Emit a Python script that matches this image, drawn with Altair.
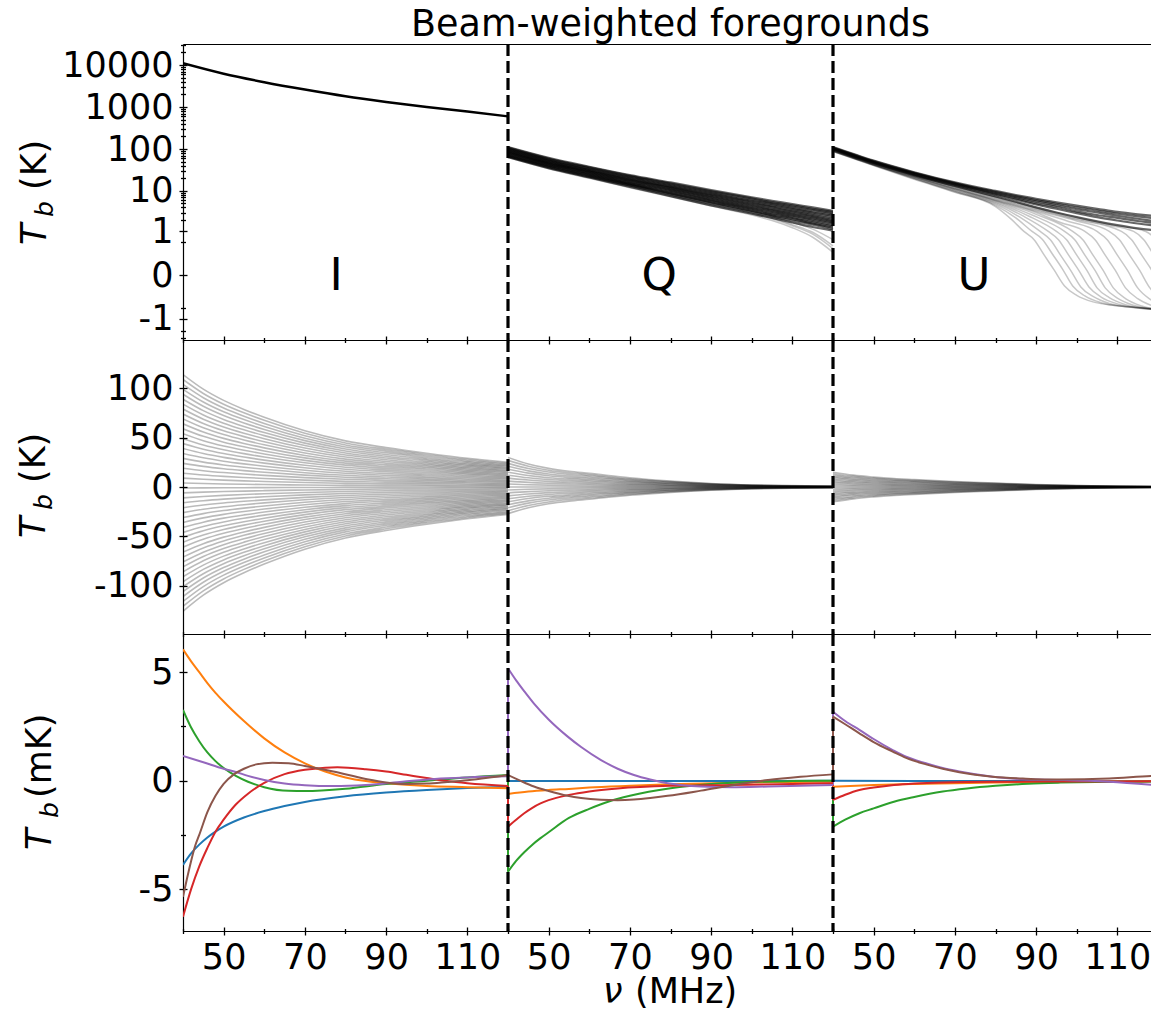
import altair as alt
import pandas as pd

FONT = "DejaVu Sans"
BLACK = "#000000"

# ---------------------------------------------------------------- data
SEG_SHIFT = {"I": 0, "Q": 80, "U": 160}      # each Stokes block drawn 80 MHz further right
BOUNDARY_NU = [120, 200]                      # joint-axis positions where blocks meet
MAJOR_NU = [50, 70, 90, 110]
MINOR_NU = [40, 60, 80, 100, 120]
PANEL_NU = {"I": 77.7, "Q": 77.2, "U": 74.7}  # where the I / Q / U letters sit

# Row 1 : T_b (K), symlog
top_nu_I = [40, 50, 60, 70, 80, 90, 100, 110, 120]
top_I = [11000, 6200, 3900, 2600, 1800, 1320, 1000, 780, 600]

top_nu_Q = [40, 50, 60, 70, 80, 90, 100, 105, 110, 115, 120]
top_Q_band = [
    [112, 62, 38, 24, 16, 10.5, 7.0, 5.8, 4.8, 4.0, 3.3],
    [108, 59.5, 36.5, 23, 15.2, 9.9, 6.6, 5.4, 4.5, 3.7, 3.1],
    [104, 57, 35, 22, 14.5, 9.4, 6.2, 5.1, 4.2, 3.5, 2.9],
    [100, 55, 33.5, 21, 13.7, 8.9, 5.8, 4.8, 3.9, 3.2, 2.7],
    [97, 53, 32, 20, 13, 8.4, 5.5, 4.5, 3.7, 3.0, 2.5],
    [93, 51, 31, 19.2, 12.5, 8.0, 5.2, 4.2, 3.4, 2.8, 2.3],
    [90, 49, 30, 18.5, 12, 7.6, 4.9, 4.0, 3.2, 2.6, 2.1],
    [87, 47.5, 29, 17.7, 11.5, 7.2, 4.6, 3.7, 3.0, 2.45, 1.95],
    [84, 46, 28, 17, 11, 6.9, 4.4, 3.5, 2.8, 2.3, 1.8],
    [81, 44.5, 27, 16.2, 10.5, 6.5, 4.1, 3.3, 2.65, 2.15, 1.7],
    [78, 43, 26, 15.5, 10, 6.2, 3.9, 3.1, 2.5, 2.0, 1.6],
    [75, 41.5, 25, 15, 9.5, 5.9, 3.7, 2.9, 2.35, 1.85, 1.45],
    [72, 40, 24, 14.5, 9, 5.6, 3.5, 2.7, 2.2, 1.7, 1.35],
    [69, 38.5, 23, 14, 8.6, 5.3, 3.3, 2.55, 2.05, 1.6, 1.25],
    [67, 37, 22, 13.5, 8.2, 5.0, 3.1, 2.4, 1.9, 1.5, 1.15],
    [64, 35, 21, 12.5, 7.5, 4.5, 2.8, 2.2, 1.7, 1.3, 1.05],
]
top_Q_faint = [
    [66, 36, 21.5, 13, 7.8, 4.7, 2.9, 2.2, 1.5, 0.95, 0.4],
    [63, 34, 20, 12, 7.2, 4.3, 2.6, 1.9, 1.25, 0.7, 0.25],
    [70, 38, 23, 14, 8.6, 5.2, 3.2, 2.4, 1.7, 1.15, 0.6],
    [65, 35.5, 21, 12.7, 7.6, 4.6, 2.85, 2.1, 1.4, 0.85, 0.33],
]

top_nu_U = [40, 50, 60, 70, 80, 85, 90, 95, 100, 105, 110, 115, 120]
top_U_band = [
    [112, 53, 28, 16, 10, 8.0, 6.5, 5.3, 4.4, 3.7, 3.1, 2.7, 2.4],
    [109, 51.5, 27.2, 15.5, 9.5, 7.5, 6.0, 4.9, 4.0, 3.35, 2.8, 2.4, 2.1],
    [106, 50, 26.5, 15, 9.0, 7.1, 5.6, 4.5, 3.6, 3.0, 2.5, 2.1, 1.8],
    [104, 49, 25.7, 14.5, 8.5, 6.6, 5.1, 4.1, 3.2, 2.6, 2.2, 1.85, 1.6],
    [102, 48, 25, 14, 8.1, 6.2, 4.7, 3.7, 2.9, 2.3, 1.9, 1.6, 1.4],
    [99, 46.5, 24, 13.2, 7.4, 5.5, 4.0, 3.0, 2.3, 1.8, 1.45, 1.2, 1.05],
]
# U realisations that fall through zero: (frequencies, values) per line
top_U_faint = [
    ([40, 50, 60, 70, 80, 84, 87, 89.5, 92, 94.5, 97, 100, 104, 109, 117, 120],
     [87, 40.5, 19, 9.3, 4.2, 2.0, 1.0, 0.6, 0.2, 0.03, -0.08, -0.2, -0.33, -0.42, -0.5, -0.52]),
    ([40, 50, 60, 70, 80, 85, 89, 91.5, 94, 96.5, 99, 102, 106, 111, 119],
     [88, 41, 19.5, 9.6, 4.5, 2.2, 1.0, 0.62, 0.22, 0.04, -0.08, -0.21, -0.35, -0.45, -0.53]),
    ([40, 50, 60, 70, 80, 86, 91, 93.5, 96, 98.5, 101, 104, 108, 113, 121],
     [89, 41.5, 20, 9.9, 4.8, 2.3, 1.0, 0.6, 0.2, 0.03, -0.09, -0.22, -0.37, -0.47, -0.56]),
    ([40, 50, 60, 70, 80, 87, 93, 95.5, 98, 100.5, 103, 106, 110, 115, 123],
     [90, 42, 20.5, 10.2, 5.1, 2.4, 1.0, 0.6, 0.2, 0.03, -0.09, -0.23, -0.38, -0.5, -0.58]),
    ([40, 50, 60, 70, 80, 88, 95, 97.5, 100, 102.5, 105, 108, 112, 117, 125],
     [91, 42.5, 21, 10.6, 5.4, 2.5, 1.0, 0.6, 0.2, 0.03, -0.1, -0.24, -0.4, -0.52, -0.6]),
    ([40, 50, 60, 70, 80, 89, 97, 99.5, 102, 104.5, 107, 110, 114, 119, 127],
     [92, 43, 21.5, 11, 5.7, 2.6, 1.0, 0.6, 0.2, 0.03, -0.1, -0.25, -0.42, -0.55, -0.62]),
    ([40, 50, 60, 70, 80, 90, 99, 101.5, 104, 106.5, 109, 112, 116, 121],
     [93, 43.5, 21.7, 11.2, 5.9, 2.7, 1.0, 0.6, 0.2, 0.03, -0.1, -0.26, -0.44, -0.57]),
    ([40, 50, 60, 70, 80, 90, 96, 102, 104.5, 107, 109.5, 112, 115, 119, 124],
     [94, 44, 22, 11.4, 6.0, 3.0, 1.7, 1.0, 0.6, 0.2, 0.03, -0.1, -0.26, -0.45, -0.58]),
    ([40, 50, 60, 70, 80, 90, 98, 105, 107.5, 110, 112.5, 115, 118, 122],
     [95, 44.5, 22.5, 11.8, 6.3, 3.2, 1.8, 1.0, 0.6, 0.2, 0.03, -0.1, -0.27, -0.46]),
    ([40, 50, 60, 70, 80, 90, 100, 108, 110.5, 113, 115.5, 118, 121],
     [96, 45, 23, 12.2, 6.6, 3.4, 1.85, 1.0, 0.6, 0.2, 0.03, -0.1, -0.27]),
    ([40, 50, 60, 70, 80, 90, 100, 111, 113.5, 116, 118.5, 121],
     [97, 45.5, 23.5, 12.6, 6.9, 3.6, 2.0, 1.0, 0.6, 0.2, 0.03, -0.1]),
    ([40, 50, 60, 70, 80, 90, 100, 107, 114, 116.5, 119, 121.5],
     [98, 46, 23.7, 12.9, 7.1, 3.8, 2.1, 1.5, 1.0, 0.6, 0.2, 0.03]),
    ([40, 50, 60, 70, 80, 90, 100, 110, 117, 119.5, 122],
     [98.5, 46.2, 23.9, 13.1, 7.3, 4.0, 2.3, 1.4, 1.0, 0.6, 0.2]),
]

# Row 2 : T_b (K), linear. Each realisation = its 40 MHz value x the block's falloff
mid_nu = [40, 45, 50, 55, 60, 70, 80, 90, 100, 110, 120]
mid_amp_I = [114, 109, 104, 99, 94, 89, 84, 79, 74, 69, 64, 59, 54, 49, 44, 39, 34,
             29, 24, 19, 14, 9, 4, -1, -6, -11, -16, -21, -26, -31, -36, -41, -46,
             -51, -56, -61, -66, -71, -76, -81, -86, -91, -96, -101, -106, -111,
             -116, -121, -126]
mid_prof_I = [1.0, 0.87, 0.77, 0.69, 0.62, 0.5, 0.41, 0.35, 0.3, 0.255, 0.22]
mid_amp_Q = [30, 27, 24, 21, 18, 15, 12, 9, 6, 3, 0, -3, -6, -9, -12, -15, -18,
             -21, -24, -27]
mid_prof_Q = [1.0, 0.78, 0.63, 0.53, 0.46, 0.31, 0.2, 0.12, 0.07, 0.045, 0.03]
mid_amp_U = [15, 13.5, 12, 10.5, 9, 7.5, 6, 4.5, 3, 1.5, 0, -1.5, -3, -4.5, -6,
             -7.5, -9, -10.5, -12, -13.5, -15]
mid_prof_U = [1.0, 0.8, 0.67, 0.57, 0.5, 0.37, 0.27, 0.17, 0.1, 0.06, 0.04]

# Row 3 : T_b (mK), six colored components (nu list, value list) per block
blue = {
    "I": ([40, 42, 44, 46, 48, 50, 55, 60, 65, 70, 80, 90, 100, 110, 120],
          [-3.88, -3.35, -2.95, -2.62, -2.35, -2.12, -1.7, -1.4, -1.17, -0.98,
           -0.72, -0.55, -0.43, -0.34, -0.28]),
    "Q": ([40, 80, 120], [-0.02, -0.02, -0.01]),
    "U": ([40, 80, 120], [-0.01, -0.02, -0.03]),
}
orange = {
    "I": ([40, 42, 44, 46, 48, 50, 55, 60, 65, 70, 75, 80, 85, 90, 100, 110, 120],
          [6.05, 5.5, 5.0, 4.5, 4.05, 3.65, 2.75, 1.95, 1.3, 0.8, 0.42, 0.15,
           -0.02, -0.12, -0.25, -0.3, -0.35]),
    "Q": ([40, 45, 50, 55, 60, 70, 80, 90, 100, 110, 120],
          [-0.61, -0.5, -0.43, -0.38, -0.32, -0.24, -0.17, -0.12, -0.08, -0.06, -0.05]),
    "U": ([40, 50, 60, 70, 80, 90, 100, 110, 120],
          [-0.28, -0.2, -0.15, -0.12, -0.09, -0.07, -0.05, -0.04, -0.03]),
}
green = {
    "I": ([40, 42, 44, 46, 48, 50, 53, 56, 60, 66, 70, 80, 90, 100, 110, 120],
          [3.26, 2.45, 1.82, 1.3, 0.9, 0.58, 0.22, -0.05, -0.3, -0.47, -0.48, -0.37,
           -0.15, 0.0, 0.15, 0.26]),
    "Q": ([40, 42, 44, 46, 48, 50, 55, 60, 65, 70, 80, 90, 100, 110, 120],
          [-4.2, -3.7, -3.3, -2.95, -2.65, -2.38, -1.72, -1.3, -0.95, -0.7, -0.35,
           -0.15, -0.06, -0.02, 0.0]),
    "U": ([40, 43, 46.5, 50, 55, 60, 67, 73, 80, 88, 96, 105, 120],
          [-2.12, -1.8, -1.5, -1.28, -0.97, -0.75, -0.5, -0.36, -0.24, -0.14,
           -0.09, -0.06, -0.04]),
}
red = {
    "I": ([40, 42, 44, 46, 48, 50, 53, 56, 60, 65, 70, 75, 78, 85, 90, 95, 100,
           105, 110, 120],
          [-6.27, -5.0, -3.95, -3.1, -2.35, -1.8, -1.1, -0.6, -0.1, 0.3, 0.5, 0.6,
           0.62, 0.53, 0.42, 0.27, 0.12, -0.02, -0.12, -0.25]),
    "Q": ([40, 42, 44, 46, 48, 50, 55, 60, 67, 80, 95, 110, 120],
          [-2.12, -1.8, -1.5, -1.25, -1.05, -0.9, -0.66, -0.5, -0.36, -0.24, -0.2,
           -0.15, -0.12]),
    "U": ([40, 43, 46.5, 50, 55, 60, 67, 80, 100, 120],
          [-0.89, -0.65, -0.43, -0.32, -0.2, -0.13, -0.08, -0.05, -0.04, -0.03]),
}
purple = {
    "I": ([40, 45, 50, 53, 56, 60, 65, 70, 77, 85, 94, 102, 110, 120],
          [1.14, 0.85, 0.55, 0.4, 0.22, 0.03, -0.13, -0.21, -0.25, -0.2, -0.05,
           0.08, 0.15, 0.2]),
    "Q": ([40, 42, 44, 46.4, 50, 54.7, 58, 62.9, 67, 71, 75, 79.3, 87.5, 95, 104, 120],
          [5.18, 4.62, 4.12, 3.55, 2.82, 2.03, 1.55, 0.95, 0.55, 0.26, 0.05, -0.12,
           -0.27, -0.3, -0.27, -0.2]),
    "U": ([40, 43, 46.5, 50, 54.7, 58, 62.9, 67, 71.1, 79.3, 87.5, 95.7, 108, 120],
          [3.18, 2.75, 2.34, 1.92, 1.41, 1.1, 0.8, 0.58, 0.42, 0.18, 0.06, 0.03,
           -0.05, -0.22]),
}
brown = {
    "I": ([40, 41, 42, 43, 44, 46, 48, 50, 52.6, 55, 58, 62, 66, 70, 77, 85, 90,
           95, 100, 105, 110, 115, 120],
          [-5.35, -4.5, -3.7, -3.0, -2.5, -1.45, -0.7, -0.15, 0.3, 0.55, 0.75, 0.83,
           0.8, 0.68, 0.42, 0.08, -0.08, -0.15, -0.13, -0.06, 0.02, 0.13, 0.26]),
    "Q": ([40, 43, 46.4, 50, 54.7, 58, 62.9, 67, 71, 75, 79.3, 87.5, 95.7, 104, 112, 120],
          [0.26, 0.0, -0.27, -0.48, -0.7, -0.8, -0.88, -0.9, -0.87, -0.8, -0.7,
           -0.46, -0.2, 0.03, 0.18, 0.29]),
    "U": ([40, 43, 46.5, 50, 54.7, 58, 62.9, 67, 71.1, 79.3, 87.5, 95.7, 108,
           118.5, 120],
          [2.95, 2.6, 2.18, 1.78, 1.34, 1.05, 0.75, 0.55, 0.39, 0.18, 0.09, 0.05,
           0.1, 0.22, 0.23]),
}
COMPONENTS = ["blue", "orange", "green", "red", "purple", "brown"]
COMPONENT_DATA = [blue, orange, green, red, purple, brown]
COMPONENT_COLORS = ["#1f77b4", "#ff7f0e", "#2ca02c", "#d62728", "#9467bd", "#8c564b"]

# ---------------------------------------------------------------- geometry
W = 968
PX_PER_MHZ = 4.0625
X_DOMAIN = [40, 40 + W / PX_PER_MHZ]
H1, H2, H3 = 296, 294, 297

major_x = sorted({n + s for s in SEG_SHIFT.values() for n in MAJOR_NU if n + s <= X_DOMAIN[1]})
minor_x = sorted({n + s for s in SEG_SHIFT.values() for n in MINOR_NU if n + s <= X_DOMAIN[1]})

X_EXPR = "'' + ((datum.value - 40) % 80 + 40)"
Y_EXPR = "'' + datum.value"

xs = alt.Scale(domain=X_DOMAIN, nice=False, zero=False)
ys1 = alt.Scale(type="symlog", constant=0.1, domain=[-3.375, 31587], nice=False, zero=False)
ys2 = alt.Scale(domain=[-149, 149], nice=False, zero=False)
ys3 = alt.Scale(domain=[-6.93, 6.76], nice=False, zero=False)

y1_major = [-1, 0, 1, 10, 100, 1000, 10000]
y1_minor = [-3, -2, -0.5, 0.5] + [m * 10 ** k for k in range(4) for m in range(2, 10)] + [20000, 30000]
y2_major = [-100, -50, 0, 50, 100]
y3_major = [-5, 0, 5]
y3_minor = [-2.5, 2.5]


def axis(orient, values=None, size=0, offset=0, labels=False, domain=False, expr=None, pad=0):
    kw = dict(orient=orient, grid=False, domain=domain, ticks=size > 0, labels=labels,
              title=None, offset=offset, minExtent=0)
    if values is not None:
        kw["values"] = values
    if size > 0:
        kw.update(tickSize=size, tickColor=BLACK, tickWidth=1.3)
    if domain:
        kw.update(domainColor=BLACK, domainWidth=1.2)
    if labels:
        kw.update(labelFont=FONT, labelFontSize=35, labelColor=BLACK, labelPadding=pad,
                  labelExpr=expr, labelOverlap=False, labelFlush=False, labelBound=False)
    return alt.Axis(**kw)


def helper(ys, x_axis, y_axis):
    d = pd.DataFrame({"x": [100.0], "y": [0.0]})
    return alt.Chart(d).mark_point(opacity=0).encode(
        x=alt.X("x:Q", scale=xs, axis=x_axis),
        y=alt.Y("y:Q", scale=ys, axis=y_axis),
    )


def axis_layers(ys, y_major, y_minor, x_labels):
    return [
        helper(ys, axis("bottom", major_x, 8, -4, labels=x_labels, expr=X_EXPR, pad=5),
               axis("left", y_major, 8, -4, labels=True, expr=Y_EXPR, pad=6)),
        helper(ys, axis("bottom", minor_x, 5, -2.5),
               axis("left", y_minor, 5, -2.5) if y_minor else None),
        helper(ys, axis("bottom", domain=True), axis("left", domain=True)),
        helper(ys, axis("top", domain=True), None),
    ]


def rules_layer():
    return alt.Chart(pd.DataFrame({"x": BOUNDARY_NU})).mark_rule(
        color=BLACK, strokeWidth=3.2, strokeDash=[12, 5]
    ).encode(x=alt.X("x:Q", scale=xs, axis=None))


def text_layers(pieces):
    out = []
    for txt, x, y, size, style, angle in pieces:
        out.append(
            alt.Chart(pd.DataFrame({"t": [txt]})).mark_text(
                text=txt, font=FONT, fontSize=size, fontStyle=style, angle=angle,
                align="left", baseline="alphabetic", color=BLACK
            ).encode(x=alt.value(x), y=alt.value(y))
        )
    return out


def gray_lines(df, ys, opacity, width):
    return alt.Chart(df).mark_line(
        clip=True, interpolate="monotone", color=BLACK, opacity=opacity, strokeWidth=width
    ).encode(
        x=alt.X("x:Q", scale=xs, axis=None),
        y=alt.Y("y:Q", scale=ys, axis=None),
        detail="line:N",
    )


def table(nu, lines, seg, tag):
    rows = []
    for k, vals in enumerate(lines):
        for n, v in zip(nu, vals):
            rows.append({"x": n + SEG_SHIFT[seg], "y": v, "line": f"{tag}{k}"})
    return pd.DataFrame(rows)


def table_pairs(pairs, seg, tag):
    rows = []
    for k, (nu, vals) in enumerate(pairs):
        for n, v in zip(nu, vals):
            rows.append({"x": n + SEG_SHIFT[seg], "y": v, "line": f"{tag}{k}"})
    return pd.DataFrame(rows)


# ---------------------------------------------------------------- row 1
r1_I = table(top_nu_I, [top_I], "I", "i")
r1_band = pd.concat([table(top_nu_Q, top_Q_band, "Q", "qb"), table(top_nu_U, top_U_band, "U", "ub")])
r1_faint = pd.concat([table(top_nu_Q, top_Q_faint, "Q", "qf"), table_pairs(top_U_faint, "U", "uf")])

letters = pd.DataFrame({
    "t": list(PANEL_NU),
    "x": [PANEL_NU[s] + SEG_SHIFT[s] for s in PANEL_NU],
    "y": [0, 0, 0],
})
letter_layer = alt.Chart(letters).mark_text(
    font=FONT, fontSize=45, baseline="alphabetic", dy=15, color=BLACK
).encode(x=alt.X("x:Q", scale=xs, axis=None), y=alt.Y("y:Q", scale=ys1, axis=None), text="t:N")

row1 = alt.layer(
    *axis_layers(ys1, y1_major, y1_minor, False),
    gray_lines(r1_faint, ys1, 0.22, 1.5),
    gray_lines(r1_band, ys1, 0.6, 2.2),
    gray_lines(r1_I, ys1, 1.0, 2.5),
    letter_layer,
    rules_layer(),
    *text_layers([("T", -137, 201, 35, "italic", 270),
                  ("b", -130, 173, 25, "italic", 270),
                  ("(K)", -137, 146, 35, "normal", 270)]),
).properties(
    width=W, height=H1,
    title=alt.TitleParams(text="Beam-weighted foregrounds", font=FONT, fontSize=36.5,
                          fontWeight="normal", color=BLACK, anchor="middle", frame="group",
                          offset=-30, baseline="alphabetic", dx=3.5),
).resolve_scale(x="shared", y="shared").resolve_axis(x="independent", y="independent")

# ---------------------------------------------------------------- row 2
def fan(amps, prof, seg, tag):
    lines = [[a * p for p in prof] for a in amps]
    return table(mid_nu, lines, seg, tag)

r2 = pd.concat([fan(mid_amp_I, mid_prof_I, "I", "mi"),
                fan(mid_amp_Q, mid_prof_Q, "Q", "mq"),
                fan(mid_amp_U, mid_prof_U, "U", "mu")])

row2 = alt.layer(
    *axis_layers(ys2, y2_major, None, False),
    gray_lines(r2, ys2, 0.27, 1.6),
    rules_layer(),
    *text_layers([("T", -138, 198, 35, "italic", 270),
                  ("b", -131, 170, 25, "italic", 270),
                  ("(K)", -138, 143, 35, "normal", 270)]),
).properties(width=W, height=H2).resolve_scale(x="shared", y="shared").resolve_axis(
    x="independent", y="independent")

# ---------------------------------------------------------------- row 3
rows = []
conn = []
for name, comp in zip(COMPONENTS, COMPONENT_DATA):
    for seg in ["I", "Q", "U"]:
        nu, vals = comp[seg]
        for n, v in zip(nu, vals):
            rows.append({"x": n + SEG_SHIFT[seg], "y": v, "series": name, "line": f"{name}{seg}"})
    for b, (left, right) in zip(BOUNDARY_NU, [("I", "Q"), ("Q", "U")]):
        conn.append({"x": b, "y": comp[left][1][-1], "series": name, "line": f"{name}{b}"})
        conn.append({"x": b, "y": comp[right][1][0], "series": name, "line": f"{name}{b}"})
r3 = pd.DataFrame(rows)
r3c = pd.DataFrame(conn)

color = alt.Color("series:N", scale=alt.Scale(domain=COMPONENTS, range=COMPONENT_COLORS), legend=None)

comp_lines = alt.Chart(r3).mark_line(clip=True, interpolate="monotone", strokeWidth=2).encode(
    x=alt.X("x:Q", scale=xs, axis=None), y=alt.Y("y:Q", scale=ys3, axis=None),
    color=color, detail="line:N")
comp_conn = alt.Chart(r3c).mark_line(clip=True, strokeWidth=2).encode(
    x=alt.X("x:Q", scale=xs, axis=None), y=alt.Y("y:Q", scale=ys3, axis=None),
    color=color, detail="line:N")

row3 = alt.layer(
    *axis_layers(ys3, y3_major, y3_minor, True),
    comp_conn,
    comp_lines,
    rules_layer(),
    *text_layers([("T", -132, 216, 35, "italic", 270),
                  ("b", -125, 184, 25, "italic", 270),
                  ("(mK)", -132, 164, 35, "normal", 270),
                  ("ν", 420, 369, 35, "italic", 0),
                  ("(MHz)", 452, 369, 35, "normal", 0)]),
).properties(width=W, height=H3).resolve_scale(x="shared", y="shared").resolve_axis(
    x="independent", y="independent")

chart = alt.vconcat(row1, row2, row3, spacing=0, bounds="flush").properties(
    padding={"left": 17, "top": 6, "right": 0, "bottom": 1}
).configure_view(stroke=None)

chart.save("out.html", embed_options={"renderer": "svg", "actions": False})
